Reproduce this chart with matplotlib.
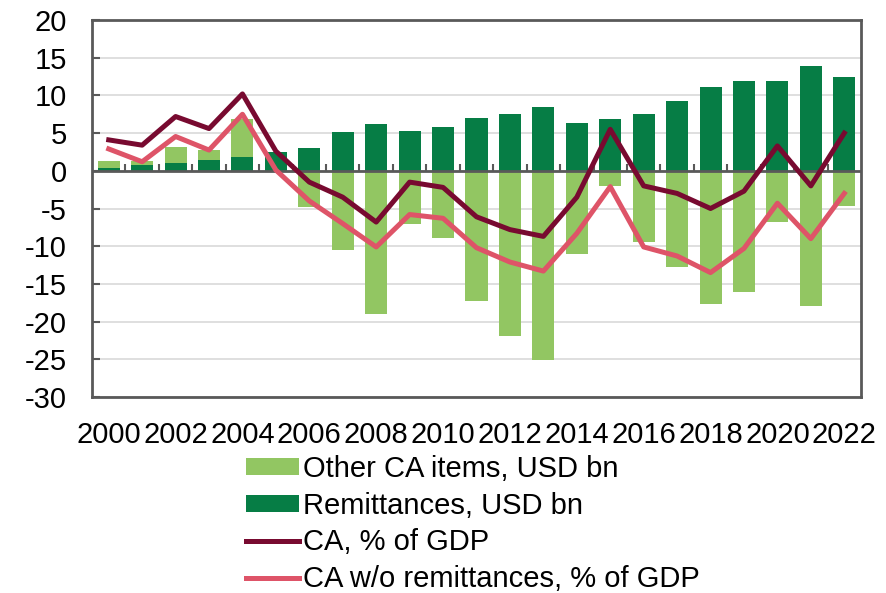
import numpy as np
import matplotlib
matplotlib.use("Agg")
import matplotlib.pyplot as plt

plt.rcParams['font.family'] = ['Liberation Sans', 'DejaVu Sans']
plt.rcParams['axes.unicode_minus'] = False

years = list(range(2000, 2023))
remittances = [0.35, 0.8, 1.05, 1.45, 1.8, 2.45, 3.05, 5.2, 6.15, 5.3, 5.8, 6.95, 7.5, 8.45,
               6.4, 6.9, 7.5, 9.2, 11.05, 11.85, 11.9, 13.95, 12.45]
other_ca = [0.95, 0.45, 2.1, 1.35, 5.05, 0.1, -4.75, -10.55, -19.0, -7.1, -8.9, -17.3, -21.9,
            -25.1, -11.1, -1.95, -9.45, -12.8, -17.6, -16.1, -6.75, -17.9, -4.65]
ca_gdp = [4.1, 3.4, 7.2, 5.6, 10.2, 2.6, -1.5, -3.5, -6.8, -1.5, -2.2, -6.1, -7.8, -8.7,
          -3.5, 5.5, -2.0, -3.0, -5.0, -2.7, 3.3, -2.0, 5.0]
ca_wo_rem = [2.9, 1.2, 4.55, 2.75, 7.5, 0.1, -4.0, -7.0, -10.1, -5.8, -6.3, -10.2, -12.1, -13.3,
             -8.3, -2.1, -10.1, -11.3, -13.5, -10.3, -4.3, -9.0, -3.0]

c_light = '#92C662'
c_dark = '#067D45'
c_ca = '#780A30'
c_wo = '#DE5468'
c_axis = '#595959'

x = np.arange(len(years))
other = np.array(other_ca)
rem = np.array(remittances)
bottom = np.where(other > 0, rem, 0)

fig = plt.figure(figsize=(8.86, 5.93), dpi=100)
ax = fig.add_axes([92/886, 1 - 397/593, (861-92)/886, (397-20)/593])

ax.set_axisbelow(True)
ax.yaxis.grid(True, color='#D9D9D9', lw=1.2)

# tick marks between categories on the zero line
ax.vlines(x[1:] - 0.5, 0, 0.9, color=c_axis, lw=1.5, zorder=1)

b1 = ax.bar(x, other, 0.66, bottom=bottom, color=c_light, zorder=2,
            label='Other CA items, USD bn')
b2 = ax.bar(x, rem, 0.66, color=c_dark, zorder=2, label='Remittances, USD bn')
ax.axhline(0, color=c_axis, lw=2, zorder=3)
l1, = ax.plot(x, ca_gdp, color=c_ca, lw=3.6, zorder=4, label='CA, % of GDP')
l2, = ax.plot(x, ca_wo_rem, color=c_wo, lw=3.6, zorder=4, label='CA w/o remittances, % of GDP')

ax.set_xlim(-0.5, len(years) - 0.5)
ax.set_ylim(-30, 20)
ax.set_yticks(range(-30, 21, 5))
ax.set_xticks(x[::2])
ax.set_xticklabels([str(y) for y in years[::2]])
ax.tick_params(axis='x', length=0, labelsize=21, pad=17)
ax.tick_params(axis='y', direction='in', length=6, width=1.5, color=c_axis, labelsize=21, pad=18)
for sp in ax.spines.values():
    sp.set_color(c_axis)
    sp.set_linewidth(2)

fig.legend(handles=[b1, b2, l1, l2], loc='upper left',
           bbox_to_anchor=(246/886, 1 - 455/593), frameon=False, fontsize=21,
           borderpad=0, borderaxespad=0, handlelength=1.8, handleheight=0.5,
           handletextpad=0.15, labelspacing=0.3)

fig.savefig('out.png', dpi=100)
